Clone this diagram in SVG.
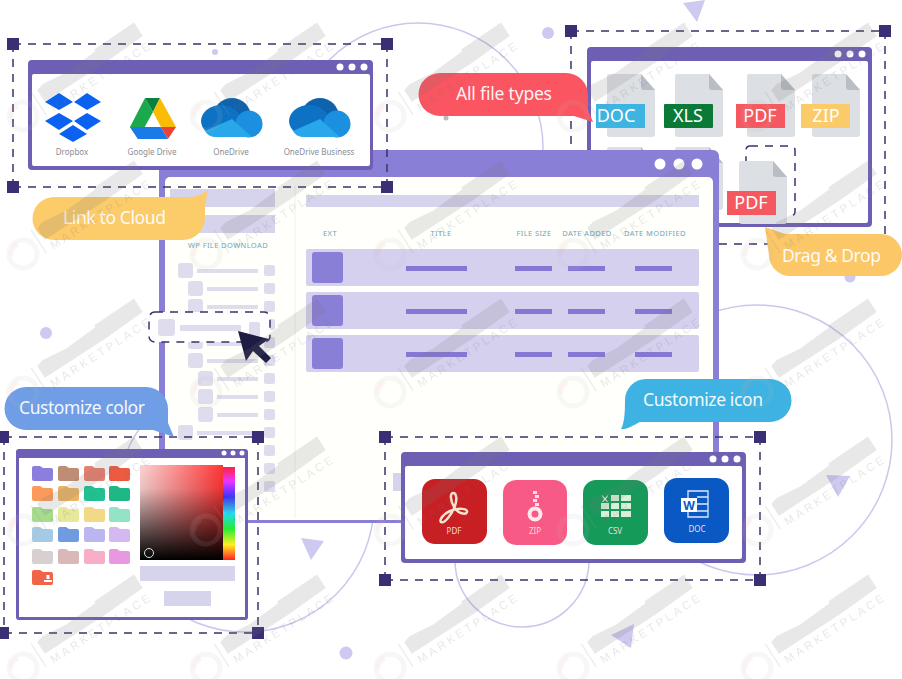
<svg xmlns="http://www.w3.org/2000/svg" width="902" height="679" viewBox="0 0 902 679">
<style>
text{font-family:"Noto Sans","Open Sans","Liberation Sans",sans-serif}
.ring{fill:none;stroke:#cbc7ec;stroke-width:1.5}
.deco{fill:#cdc9f0}
.dash{fill:none;stroke:#3b3267;stroke-width:1.5;stroke-dasharray:8 7}
.h{fill:#3a2f75}
.frame{fill:#6e5fb5}
.inner{fill:#fff}
.dot{fill:#fff}
.soft{fill:#d6d3ec}
.tree{fill:#dfdcee}
.row{fill:#d5d0ee}
.thumb{fill:#8a7fd6}
.bar{fill:#8478d4}
.hd{font-size:7.5px;fill:#6ea6b8;letter-spacing:.4px;text-anchor:middle}
.lab{font-size:8px;fill:#8a8d92;text-anchor:middle}
.call{font-size:17.5px;fill:#fff;opacity:.93}
.tag{font-size:18px;fill:#fff;text-anchor:middle}
.ic{font-size:8px;fill:#f6dcd6;text-anchor:middle}
.wm{font-size:11.500px;fill:#777;font-family:"Liberation Sans",sans-serif}
</style>
<defs>
<g id="page"><path d="M2 0H34L48 16V60a3 3 0 0 1-3 3H3a3 3 0 0 1-3-3V2a2 2 0 0 1 2-2Z" fill="#dcdfe3"/><path d="M34 0L48 16H37a3 3 0 0 1-3-3Z" fill="#b9bdc5"/></g>
<path id="folder" d="M1 2a2 2 0 0 1 2-2h6l3 2h8a2 2 0 0 1 2 2v9a2 2 0 0 1-2 2H3a2 2 0 0 1-2-2Z"/>
<g id="cloud">
<circle cx="31" cy="19" r="19" fill="#0f62ad"/>
<ellipse cx="20" cy="23" rx="20" ry="16" fill="#0e72c4"/>
<circle cx="48" cy="26" r="13.500" fill="#1b8fe0"/>
<path d="M4 33L31 21L51 39H13a12 12 0 0 1-9-6Z" fill="#28a8ea"/>
</g>
<g id="dl"><circle cx="0" cy="0" r="14" fill="none" stroke="#bbb" stroke-width="5" opacity=".7"/><path d="M-13-6a14 14 0 0 1 14-8v5a10 10 0 0 0-10 5Z" fill="#e99" opacity=".7"/><path d="M20-16V12" stroke="#999" stroke-width="1.500"/><path d="M26-14L34-16L60-13L96-15V-17L144-18V-2L98 0H26Z" fill="#777"/><text class="wm" x="28" y="13" textLength="116">MARKETPLACE</text></g>
<linearGradient id="sat" x1="0" x2="1" y1="0" y2="0"><stop offset="0" stop-color="#fcd4d4"/><stop offset="1" stop-color="#f33"/></linearGradient>
<linearGradient id="blk" x1="0" x2="0" y1="0" y2="1"><stop offset="0" stop-color="#000" stop-opacity="0"/><stop offset=".25" stop-color="#000" stop-opacity=".08"/><stop offset="1" stop-color="#000"/></linearGradient>
<linearGradient id="hue" x1="0" x2="0" y1="0" y2="1"><stop offset="0" stop-color="#f22"/><stop offset=".17" stop-color="#e3f"/><stop offset=".34" stop-color="#33f"/><stop offset=".5" stop-color="#2df"/><stop offset=".67" stop-color="#2e3"/><stop offset=".84" stop-color="#fe2"/><stop offset="1" stop-color="#f22"/></linearGradient>
</defs>
<rect width="902" height="679" fill="#fff"/>

<g id="background">
<circle class="ring" cx="418" cy="148" r="125"/>
<circle class="ring" cx="757" cy="440" r="135"/>
<circle class="ring" cx="245" cy="503" r="129"/>
<circle class="ring" cx="522" cy="560" r="67"/>
<circle class="deco" cx="548" cy="33" r="6"/>
<circle class="deco" cx="215" cy="52" r="3"/>
<circle class="deco" cx="46" cy="333" r="6"/>
<circle class="deco" cx="346" cy="653" r="6.500"/>
<circle class="deco" cx="850" cy="277" r="5.500"/>
<circle cx="446" cy="118" r="2.500" fill="#bbb"/>
<path class="deco" d="M683 3L705 0L697 22Z"/>
<path class="deco" d="M301 538L324 541L311 560Z"/>
<path class="deco" d="M611 635L634 624L631 648Z"/>
<path class="deco" d="M826 475L850 476L838 497Z"/>
</g>

<g id="file-types-window">
<rect class="frame" x="587" y="47" width="285" height="180" rx="4"/>
<rect class="inner" x="591" y="61" width="277" height="162" rx="2"/>
<circle class="dot" cx="838" cy="54" r="3.500"/><circle class="dot" cx="850" cy="54" r="3.500"/><circle class="dot" cx="862" cy="54" r="3.500"/>
<use href="#page" x="607" y="74"/><use href="#page" x="675" y="74"/><use href="#page" x="747" y="74"/><use href="#page" x="812" y="74"/>
<use href="#page" x="607" y="147"/><use href="#page" x="675" y="147"/>
<rect x="596" y="104" width="49" height="24" fill="#3eb4e3"/><text class="tag" x="616" y="122">DOC</text>
<rect x="664" y="104" width="49" height="24" rx="1" fill="#0a7a36"/><text class="tag" x="688" y="122">XLS</text>
<rect x="736" y="104" width="49" height="24" fill="#f65860"/><text class="tag" x="760" y="122">PDF</text>
<rect x="801" y="104" width="49" height="24" fill="#fbcb6a"/><text class="tag" x="826" y="122">ZIP</text>
</g>

<g id="main-window">
<rect x="159" y="150" width="560" height="373" rx="6" fill="#8a7fd6"/>
<rect x="165" y="177" width="548" height="343" rx="5" fill="#fffffb"/>
<circle class="dot" cx="660" cy="164" r="5.500"/><circle class="dot" cx="679" cy="164" r="5.500"/><circle class="dot" cx="697" cy="164" r="5.500"/>
<line x1="295" y1="185" x2="295" y2="518" stroke="#f1f1ea"/>
<rect class="soft" x="170" y="189" width="105" height="18"/>
<rect class="soft" x="170" y="215" width="105" height="18"/>
<rect class="soft" x="306" y="195" width="393" height="12"/>
<text class="hd" x="228" y="248">WP FILE DOWNLOAD</text>
<text class="hd" x="330" y="236">EXT</text><text class="hd" x="441" y="236">TITLE</text><text class="hd" x="534" y="236">FILE SIZE</text><text class="hd" x="587" y="236">DATE ADDED</text><text class="hd" x="655" y="236">DATE MODIFIED</text>
<rect class="row" x="306" y="249" width="393" height="37" rx="2"/>
<rect class="row" x="306" y="292" width="393" height="37" rx="2"/>
<rect class="row" x="306" y="335" width="393" height="37" rx="2"/>
<rect class="thumb" x="312" y="252" width="31" height="31" rx="3"/>
<rect class="thumb" x="312" y="295" width="31" height="31" rx="3"/>
<rect class="thumb" x="312" y="338" width="31" height="31" rx="3"/>
<g class="bar">
<rect x="406" y="266" width="61" height="5"/><rect x="515" y="266" width="37" height="5"/><rect x="568" y="266" width="37" height="5"/><rect x="635" y="266" width="37" height="5"/>
<rect x="406" y="309" width="61" height="5"/><rect x="515" y="309" width="37" height="5"/><rect x="568" y="309" width="37" height="5"/><rect x="635" y="309" width="37" height="5"/>
<rect x="406" y="352" width="61" height="5"/><rect x="515" y="352" width="37" height="5"/><rect x="568" y="352" width="37" height="5"/><rect x="635" y="352" width="37" height="5"/>
</g>
<g class="tree">
<rect x="178" y="263" width="15" height="15" rx="3"/><rect x="197" y="269" width="61" height="4"/><rect x="264" y="265" width="11" height="11" rx="2"/>
<rect x="188" y="281" width="15" height="15" rx="3"/><rect x="207" y="287" width="51" height="4"/><rect x="264" y="283" width="11" height="11" rx="2"/>
<rect x="188" y="299" width="15" height="15" rx="3"/><rect x="207" y="305" width="51" height="4"/><rect x="264" y="301" width="11" height="11" rx="2"/>
<rect x="264" y="319" width="11" height="11" rx="2"/><rect x="264" y="337" width="11" height="11" rx="2"/>
<rect x="188" y="334" width="15" height="15" rx="3"/><rect x="207" y="342" width="51" height="4"/>
<rect x="188" y="353" width="15" height="15" rx="3"/><rect x="207" y="359" width="51" height="4"/><rect x="264" y="355" width="11" height="11" rx="2"/>
<rect x="198" y="371" width="15" height="15" rx="3"/><rect x="217" y="377" width="41" height="4"/><rect x="264" y="373" width="11" height="11" rx="2"/>
<rect x="198" y="389" width="15" height="15" rx="3"/><rect x="217" y="395" width="41" height="4"/><rect x="264" y="391" width="11" height="11" rx="2"/>
<rect x="198" y="407" width="15" height="15" rx="3"/><rect x="217" y="413" width="41" height="4"/><rect x="264" y="409" width="11" height="11" rx="2"/>
<rect x="178" y="425" width="15" height="15" rx="3"/><rect x="197" y="431" width="61" height="4"/><rect x="264" y="427" width="11" height="11" rx="2"/>
<rect x="264" y="445" width="11" height="11" rx="2"/><rect x="264" y="463" width="11" height="11" rx="2"/><rect x="264" y="481" width="11" height="11" rx="2"/>
</g>
<rect x="393" y="473" width="10" height="18" class="soft"/>
</g>

<g id="connectors">
<path class="dash" d="M13 44H387M13 187H387M13 44V187M387 44V187"/>
<path class="dash" d="M571 31H885M885 31V245M571 31V150M719 244H770"/>
<path class="dash" d="M4 437H258M4 633H258M4 437V633M258 437V633"/>
<path class="dash" d="M385 437H760M385 580H760M385 437V580M760 437V580"/>
</g>

<g id="dragged-row">
<rect x="149" y="312" width="121" height="30" rx="6" fill="#fff" stroke="#3b3267" stroke-width="1.500" stroke-dasharray="8 7"/>
<rect class="tree" x="158" y="319" width="17" height="17" rx="3"/>
<rect class="tree" x="180" y="325" width="61" height="6"/>
<rect class="tree" x="249" y="322" width="11" height="15" rx="2"/>
<path d="M238 331L269 339L259 346L271 358L266 363L253 351L246 361Z" fill="#1c1c44"/>
</g>

<g id="dragged-file">
<rect x="746" y="146" width="49" height="70" rx="4" fill="none" stroke="#3b3267" stroke-width="1.500" stroke-dasharray="8 7"/>
<use href="#page" x="739" y="161"/>
<rect x="727" y="191" width="49" height="24" fill="#f65860"/><text class="tag" x="751" y="209">PDF</text>
</g>

<g id="cloud-window">
<rect class="frame" x="28" y="60" width="345" height="110" rx="4"/>
<rect class="inner" x="32" y="74" width="338" height="92" rx="2"/>
<circle class="dot" cx="340" cy="67" r="3.500"/><circle class="dot" cx="352" cy="67" r="3.500"/><circle class="dot" cx="364" cy="67" r="3.500"/>
<path fill="#0c62f0" d="M59 93L73 102L59 110L45 102ZM87 93L101 102L87 110L74 102ZM59 113L73 121L59 130L45 121ZM87 113L101 121L87 130L74 121ZM73 125L87 134L73 142L59 134Z"/>
<path fill="#1ba94c" d="M145 98L153 112L138 139L130 127Z"/>
<path fill="#0a7f3e" d="M145 98H160L153 112Z"/>
<path fill="#fbbc04" d="M160 98L176 127H161L153 112Z"/>
<path fill="#1a7ae8" d="M137 127H161L168 139H138L130 127Z"/>
<path fill="#ea4335" d="M161 127H176L168 139Z"/>
<use href="#cloud" x="201" y="98"/><use href="#cloud" x="289" y="98"/>
<text class="lab" x="72" y="155">Dropbox</text><text class="lab" x="152" y="155">Google Drive</text><text class="lab" x="231" y="155">OneDrive</text><text class="lab" x="319" y="155">OneDrive Business</text>
</g>

<g id="color-window">
<rect class="frame" x="16" y="449" width="232" height="171" rx="3"/>
<rect class="inner" x="19" y="458" width="226" height="159"/>
<circle class="dot" cx="224" cy="453" r="2.500"/><circle class="dot" cx="233" cy="453" r="2.500"/><circle class="dot" cx="242" cy="453" r="2.500"/>
<use href="#folder" x="31" y="466" fill="#8a7fdc"/><use href="#folder" x="57" y="466" fill="#bf8d74"/><use href="#folder" x="83" y="466" fill="#e8806e"/><use href="#folder" x="108" y="466" fill="#ee5a3f"/>
<use href="#folder" x="31" y="486" fill="#fb9a5b"/><use href="#folder" x="57" y="486" fill="#eab463"/><use href="#folder" x="83" y="486" fill="#20c090"/><use href="#folder" x="108" y="486" fill="#1fb884"/>
<use href="#folder" x="31" y="507" fill="#a6dc8c"/><use href="#folder" x="57" y="507" fill="#e8e89a"/><use href="#folder" x="83" y="507" fill="#f2d988"/><use href="#folder" x="108" y="507" fill="#93e3c6"/>
<use href="#folder" x="31" y="527" fill="#a5cae6"/><use href="#folder" x="57" y="527" fill="#6f9be0"/><use href="#folder" x="83" y="527" fill="#bcb6f0"/><use href="#folder" x="108" y="527" fill="#d4b8f0"/>
<use href="#folder" x="31" y="549" fill="#d8d0d0"/><use href="#folder" x="57" y="549" fill="#d9b8b8"/><use href="#folder" x="83" y="549" fill="#f8aec8"/><use href="#folder" x="108" y="549" fill="#e898e0"/>
<use href="#folder" x="31" y="570" fill="#f0654a"/>
<path d="M44 580h8v2h-8zM46.500 575h3v4h-3z" fill="#fff"/>
<rect x="140" y="465" width="84" height="95" fill="url(#sat)"/>
<rect x="140" y="465" width="84" height="95" fill="url(#blk)"/>
<rect x="223" y="465" width="12" height="95" fill="url(#hue)"/>
<rect x="223" y="465" width="12" height="2" fill="#fff"/>
<circle cx="149" cy="553" r="4.500" fill="none" stroke="#ddd"/>
<rect class="soft" x="140" y="566" width="95" height="15"/>
<rect class="soft" x="164" y="591" width="47" height="15"/>
</g>

<g id="icon-window">
<rect class="frame" x="401" y="452" width="345" height="111" rx="4"/>
<rect class="inner" x="405" y="466" width="337" height="93" rx="2"/>
<circle class="dot" cx="713" cy="459" r="3.500"/><circle class="dot" cx="725" cy="459" r="3.500"/><circle class="dot" cx="737" cy="459" r="3.500"/>
<rect x="422" y="479" width="65" height="65" rx="13" fill="#c81f24"/>
<path d="M453 493C450 493 450 500 454 507C458 514 466 515 467 512C468 508 458 508 450 511C443 514 439 520 441 522C444 524 451 516 455 506C457 500 457 493 453 493Z" fill="none" stroke="#f6e3cc" stroke-width="2.500"/>
<text class="ic" x="454" y="534">PDF</text>
<rect x="503" y="480" width="64" height="65" rx="13" fill="#f75a85"/>
<path d="M533 491h4v3h-4zM535 495h4v3h-4zM533 499h4v3h-4zM535 503h4v3h-4z" fill="#fde"/>
<circle cx="535" cy="514" r="5.500" fill="none" stroke="#fde8ee" stroke-width="4"/>
<text class="ic" x="535" y="534">ZIP</text>
<rect x="583" y="480" width="65" height="65" rx="13" fill="#159a5a"/>
<path fill="#d9efd9" d="M611 495h8v6h-8zM621 495h10v6h-10zM601 503h8v6h-8zM611 503h8v6h-8zM621 503h10v6h-10zM601 511h8v6h-8zM611 511h8v6h-8zM621 511h10v6h-10zM602 495l3 3 3-3v1l-2 3 2 3h-1l-2-2-2 2h-1l2-3-2-3z"/>
<text class="ic" x="615" y="534">CSV</text>
<rect x="664" y="478" width="65" height="65" rx="13" fill="#0a58c4"/>
<path d="M688 491h20v26h-20zM697 497h11M697 504h11M697 511h11" fill="none" stroke="#dce9fb" stroke-width="1.300"/>
<rect x="681" y="498" width="16" height="14" fill="#fff"/>
<text x="689" y="510" font-size="12" font-weight="bold" fill="#0a58c4" text-anchor="middle">W</text>
<text class="ic" x="697" y="532">DOC</text>
</g>

<g id="handles" class="h">
<rect x="7" y="38" width="12" height="12"/><rect x="381" y="38" width="12" height="12"/><rect x="7" y="181" width="12" height="12"/><rect x="381" y="181" width="12" height="12"/>
<rect x="565" y="25" width="12" height="12"/><rect x="879" y="25" width="12" height="12"/>
<rect x="-2" y="431" width="11" height="12"/><rect x="252" y="431" width="12" height="12"/><rect x="-2" y="627" width="11" height="12"/><rect x="252" y="627" width="12" height="12"/>
<rect x="379" y="431" width="12" height="12"/><rect x="754" y="431" width="12" height="12"/><rect x="379" y="574" width="12" height="12"/><rect x="754" y="574" width="12" height="12"/>
</g>

<g id="label-cloud">
<path d="M54 197H190C197 197 205 193 208 190C207 196 205 202 205 212V218A22 22 0 0 1 183 240H54A21.500 21.500 0 0 1 54 197Z" fill="#fccb6a"/>
<text class="call" x="63" y="224" textLength="103">Link to Cloud</text>
</g>
<g id="label-files">
<path d="M440 73H566A22 22 0 0 1 588 95V110L593 122L574 116H440A21.500 21.500 0 0 1 440 73Z" fill="#fa5560"/>
<text class="call" x="456" y="100" textLength="96">All file types</text>
</g>
<g id="label-drag">
<path d="M765 227L785 234H881A21 21 0 0 1 881 276H790A21 21 0 0 1 769 255Z" fill="#fcc767"/>
<text class="call" x="782" y="262" textLength="99">Drag &amp; Drop</text>
</g>
<g id="label-color">
<path d="M26 387H146A22 22 0 0 1 168 409V423L174 437L153 430H26A21.500 21.500 0 0 1 26 387Z" fill="#6f9de6"/>
<text class="call" x="19" y="414" textLength="126">Customize color</text>
</g>
<g id="label-icon">
<path d="M646 379H770A21 21 0 0 1 770 422H640C632 426 626 430 621 429C624 424 625 415 625 400A21 21 0 0 1 646 379Z" fill="#3eb2e2"/>
<text class="call" x="643" y="406" textLength="120">Customize icon</text>
</g>

<g id="watermark" opacity=".17">
<use href="#dl" transform="translate(23 116) rotate(-33)"/><use href="#dl" transform="translate(206 116) rotate(-33)"/><use href="#dl" transform="translate(390 116) rotate(-33)"/><use href="#dl" transform="translate(573 116) rotate(-33)"/><use href="#dl" transform="translate(757 116) rotate(-33)"/>
<use href="#dl" transform="translate(23 254) rotate(-33)"/><use href="#dl" transform="translate(206 254) rotate(-33)"/><use href="#dl" transform="translate(390 254) rotate(-33)"/><use href="#dl" transform="translate(573 254) rotate(-33)"/><use href="#dl" transform="translate(757 254) rotate(-33)"/>
<use href="#dl" transform="translate(23 392) rotate(-33)"/><use href="#dl" transform="translate(206 392) rotate(-33)"/><use href="#dl" transform="translate(390 392) rotate(-33)"/><use href="#dl" transform="translate(573 392) rotate(-33)"/><use href="#dl" transform="translate(757 392) rotate(-33)"/>
<use href="#dl" transform="translate(23 530) rotate(-33)"/><use href="#dl" transform="translate(206 530) rotate(-33)"/><use href="#dl" transform="translate(390 530) rotate(-33)"/><use href="#dl" transform="translate(573 530) rotate(-33)"/><use href="#dl" transform="translate(757 530) rotate(-33)"/>
<use href="#dl" transform="translate(23 668) rotate(-33)"/><use href="#dl" transform="translate(206 668) rotate(-33)"/><use href="#dl" transform="translate(390 668) rotate(-33)"/><use href="#dl" transform="translate(573 668) rotate(-33)"/><use href="#dl" transform="translate(757 668) rotate(-33)"/>
</g>
</svg>
